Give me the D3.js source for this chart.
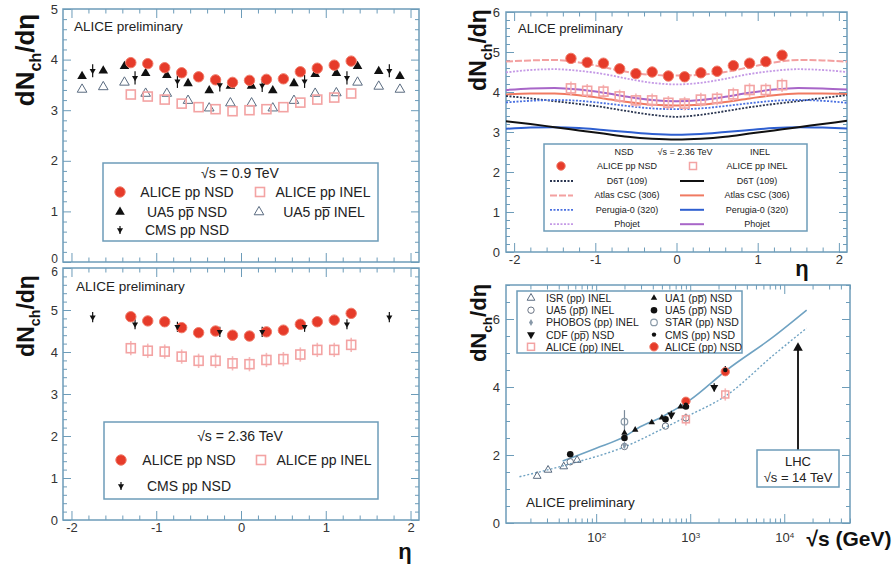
<!DOCTYPE html>
<html><head><meta charset="utf-8">
<script src="https://cdn.jsdelivr.net/npm/d3@7"></script>
<style>body{margin:0;background:#fff}svg{display:block}text{font-family:"Liberation Sans",Arial,Helvetica,sans-serif}</style>
</head><body>
<svg id="c" width="895" height="568"></svg>
<script>
// ---------------- DATA ----------------
const etaALICE = [-1.3,-1.1,-0.9,-0.7,-0.5,-0.3,-0.1,0.1,0.3,0.5,0.7,0.9,1.1,1.3];
const alice09NSD  = [3.94,3.92,3.84,3.74,3.66,3.60,3.55,3.59,3.61,3.62,3.76,3.83,3.89,3.97];
const alice09INEL = [3.31,3.27,3.21,3.13,3.06,3.02,2.98,3.00,3.02,3.06,3.15,3.21,3.25,3.33];
const etaUA5 = [-1.875,-1.625,-1.375,-1.125,-0.875,-0.625,-0.375,-0.125,0.125,0.375,0.625,0.875,1.125,1.375,1.625,1.875];
const ua5NSD  = [3.67,3.78,3.87,3.73,3.69,3.53,3.39,3.48,3.48,3.39,3.53,3.71,3.73,3.87,3.77,3.67];
const ua5INEL = [3.41,3.46,3.55,3.33,3.33,3.19,3.04,3.14,3.14,3.04,3.19,3.33,3.34,3.55,3.47,3.41];
const etaCMS = [-1.75,-1.25,-0.75,-0.25,0.25,0.75,1.25,1.75];
const cms09NSD = [3.78,3.64,3.57,3.50,3.49,3.57,3.64,3.78];
const alice236NSD  = [4.84,4.74,4.72,4.58,4.46,4.50,4.40,4.38,4.48,4.52,4.66,4.72,4.76,4.92];
const alice236INEL = [4.09,4.03,4.01,3.89,3.79,3.79,3.73,3.71,3.81,3.83,3.94,4.05,4.05,4.17];
const cms236NSD = [4.83,4.66,4.60,4.48,4.48,4.60,4.66,4.83];

const etaModel = [-2.1,-1.8,-1.5,-1.2,-0.9,-0.6,-0.3,0,0.3,0.6,0.9,1.2,1.5,1.8,2.1];
const d6tNSD     = [3.90,3.84,3.77,3.70,3.62,3.52,3.43,3.38,3.43,3.52,3.62,3.70,3.77,3.85,3.92];
const d6tINEL    = [3.27,3.20,3.12,3.04,2.96,2.88,2.83,2.81,2.83,2.88,2.96,3.04,3.12,3.20,3.28];
const atlasNSD   = [4.76,4.79,4.80,4.74,4.62,4.50,4.43,4.41,4.43,4.50,4.62,4.74,4.80,4.79,4.76];
const atlasINEL  = [3.94,3.96,3.96,3.92,3.84,3.75,3.68,3.66,3.68,3.75,3.84,3.92,3.96,3.96,3.95];
const perugiaNSD = [3.74,3.78,3.80,3.78,3.72,3.65,3.59,3.57,3.59,3.65,3.72,3.78,3.80,3.78,3.73];
const perugiaINEL= [3.08,3.11,3.12,3.10,3.05,3.00,2.95,2.93,2.95,3.00,3.05,3.10,3.12,3.11,3.09];
const phojetNSD  = [4.49,4.55,4.57,4.53,4.45,4.33,4.23,4.19,4.23,4.33,4.45,4.53,4.57,4.55,4.50];
const phojetINEL = [4.05,4.09,4.10,4.06,3.98,3.88,3.80,3.77,3.80,3.88,3.98,4.06,4.10,4.09,4.06];

// energy dependence (sqrt s in GeV)
const isrS = [23.6,30.8,45.2,62.8];          const isrINEL = [1.38,1.56,1.66,1.85];
const ua5InelS = [53,200,546,900];           const ua5InelV = [1.80,2.25,2.85,3.09];
const phobosS = [200];                       const phobosINEL = [2.29];
const cdfS = [630,1800];                     const cdfNSD = [3.18,3.99];
const ua1S = [200,260,390,500,790,900];      const ua1NSD = [2.65,2.74,2.96,3.10,3.42,3.48];
const ua5NsdS = [53,200,546,900];            const ua5NsdV = [2.02,2.50,3.05,3.43];
const starS = [200];                         const starNSD = [2.98];
const cmsS = [900,2360];                     const cmsNSD = [3.48,4.50];
const aliceS = [900,2360];                   const aliceNSD = [3.58,4.45]; const aliceINEL = [3.05,3.78];
const fitNsdS = [44,100,200,294,500,1000,2450,7700,17300];
const fitNsdV = [1.82,2.20,2.54,2.83,3.12,3.62,4.50,5.48,6.26];
const fitInelS = [15.3,50,200,560,920,2450,7700,17300];
const fitInelV = [1.36,1.72,2.24,2.83,3.13,3.76,4.94,5.73];

// ---------------- DRAWING ----------------
const svg = d3.select("#c");
const FR = "#6d9cb9", TXT = "#333";
const RED = "#e63b2a", PINK = "#f3a3a3", GRAYB = "#5a6b80";

const X1 = d3.scaleLinear().domain([-2.1,2.1]).range([63,419]);
const YA = d3.scaleLinear().domain([0,5]).range([262,9]);
const YC = d3.scaleLinear().domain([0,6]).range([520,268]);
const X2 = d3.scaleLinear().domain([-2.1,2.1]).range([506,847]);
const YB = d3.scaleLinear().domain([0,6]).range([252,12]);
const XD = d3.scaleLog().domain([11,50000]).range([506,850]);
const YD = d3.scaleLinear().domain([0,7]).range([523,285]);

const isInt = v => Math.abs(v-Math.round(v))<1e-6;
const etaMajor = [-2,-1,0,1,2];
const etaMinor = d3.range(-2.0,2.01,0.2).map(v=>+v.toFixed(2)).filter(v=>!isInt(v));
const plainFmt = d => String(d);

function panel(o){
  const g = svg.append("g");
  const [xa,xb] = o.x.range(), [yb,ya] = o.y.range();
  const add = (axis,tr)=>{
    const s=g.append("g").attr("transform",tr).call(axis);
    s.select(".domain").remove();
    s.selectAll("line").attr("stroke",FR).attr("stroke-width",1);
    s.selectAll("text").attr("fill",TXT).style("font-size","13px");
    return s;
  };
  const xl = add(d3.axisBottom(o.x).tickValues(o.xMajor).tickSize(-9).tickPadding(o.xPad||3).tickFormat(o.xFmt), `translate(0,${yb})`);
  add(d3.axisBottom(o.x).tickValues(o.xMinor).tickSize(-4.5).tickFormat(""), `translate(0,${yb})`);
  add(d3.axisTop(o.x).tickValues(o.xMajor).tickSize(-9).tickFormat(""), `translate(0,${ya})`);
  add(d3.axisTop(o.x).tickValues(o.xMinor).tickSize(-4.5).tickFormat(""), `translate(0,${ya})`);
  const yl = add(d3.axisLeft(o.y).tickValues(o.yMajor).tickSize(-8).tickPadding(o.yPad||5).tickFormat(plainFmt), `translate(${xa},0)`);
  add(d3.axisLeft(o.y).tickValues(o.yMinor).tickSize(-4).tickFormat(""), `translate(${xa},0)`);
  add(d3.axisRight(o.y).tickValues(o.yMajor).tickSize(-8).tickFormat(""), `translate(${xb},0)`);
  add(d3.axisRight(o.y).tickValues(o.yMinor).tickSize(-4).tickFormat(""), `translate(${xb},0)`);
  g.append("rect").attr("x",xa).attr("y",ya).attr("width",xb-xa).attr("height",yb-ya)
    .attr("fill","none").attr("stroke",FR).attr("stroke-width",1.5);
  const cid = "clip"+Math.round(xa)+"_"+Math.round(ya);
  svg.append("clipPath").attr("id",cid).append("rect").attr("x",xa).attr("y",ya).attr("width",xb-xa).attr("height",yb-ya);
  const data = svg.append("g").attr("clip-path",`url(#${cid})`);
  return {g,data,xl,yl};
}

function yTitle(x,y,size){
  const t=svg.append("text").attr("transform",`translate(${x},${y}) rotate(-90)`).attr("text-anchor","middle")
    .style("font-weight","bold").style("font-size",size+"px").attr("fill","#111");
  t.append("tspan").text("dN");
  t.append("tspan").attr("dy",size*0.28).style("font-size",(size*0.62)+"px").text("ch");
  t.append("tspan").attr("dy",-size*0.28).text("/d\u03b7");
}
function label(x,y,txt,size,anchor,opts){
  const t=svg.append("text").attr("x",x).attr("y",y).attr("text-anchor",anchor||"start")
    .style("font-size",size+"px").attr("fill",(opts&&opts.fill)||"#222").text(txt);
  if(opts&&opts.bold) t.style("font-weight","bold");
  return t;
}
const symPath = (type,size)=>d3.symbol().type(type).size(size)();
function markers(g,xs,ys,sx,sy,kind){
  xs.forEach((xv,i)=>{ drawMarker(g,sx(xv),sy(ys[i]),kind); });
}
function drawMarker(g,px,py,kind){
  switch(kind){
    case "aliceNSD": g.append("circle").attr("cx",px).attr("cy",py).attr("r",5.2).attr("fill",RED).attr("stroke","#f07a68").attr("stroke-width",1); break;
    case "aliceNSDs": g.append("circle").attr("cx",px).attr("cy",py).attr("r",4.2).attr("fill",RED).attr("stroke","#f07a68").attr("stroke-width",1); break;
    case "aliceINEL": g.append("rect").attr("x",px-4.5).attr("y",py-4.5).attr("width",9).attr("height",9).attr("fill","none").attr("stroke",PINK).attr("stroke-width",1.6); break;
    case "aliceINELs": g.append("rect").attr("x",px-3.5).attr("y",py-3.5).attr("width",7).attr("height",7).attr("fill","none").attr("stroke",PINK).attr("stroke-width",1.5); break;
    case "triF": g.append("path").attr("d",symPath(d3.symbolTriangle,40)).attr("transform",`translate(${px},${py})`).attr("fill","#111"); break;
    case "triO": g.append("path").attr("d",symPath(d3.symbolTriangle,40)).attr("transform",`translate(${px},${py})`).attr("fill","none").attr("stroke",GRAYB).attr("stroke-width",1); break;
    case "triFs": g.append("path").attr("d",symPath(d3.symbolTriangle,18)).attr("transform",`translate(${px},${py})`).attr("fill","#111"); break;
    case "triOs": g.append("path").attr("d",symPath(d3.symbolTriangle,26)).attr("transform",`translate(${px},${py})`).attr("fill","none").attr("stroke",GRAYB).attr("stroke-width",1); break;
    case "cms": g.append("path").attr("d",symPath(d3.symbolTriangle,16)).attr("transform",`translate(${px},${py}) rotate(180)`).attr("fill","#111"); break;
    case "cdf": g.append("path").attr("d",symPath(d3.symbolTriangle,28)).attr("transform",`translate(${px},${py}) rotate(180)`).attr("fill","#111"); break;
    case "dotF": g.append("circle").attr("cx",px).attr("cy",py).attr("r",3.3).attr("fill","#111"); break;
    case "dotS": g.append("circle").attr("cx",px).attr("cy",py).attr("r",2.2).attr("fill","#111"); break;
    case "circO": g.append("circle").attr("cx",px).attr("cy",py).attr("r",3.2).attr("fill","none").attr("stroke","#6a7484").attr("stroke-width",1); break;
    case "star": g.append("circle").attr("cx",px).attr("cy",py).attr("r",3.3).attr("fill","none").attr("stroke","#8a9aa8").attr("stroke-width",1.2); break;
    case "phobos": g.append("path").attr("d",symPath(d3.symbolDiamond,14)).attr("transform",`translate(${px},${py})`).attr("fill","#8898a8"); break;
  }
}
function errbars(g,xs,ys,err,sx,sy,color,w){
  xs.forEach((xv,i)=>{
    g.append("line").attr("x1",sx(xv)).attr("x2",sx(xv)).attr("y1",sy(ys[i]-err)).attr("y2",sy(ys[i]+err))
     .attr("stroke",color).attr("stroke-width",w||1.2);
  });
}

// ======== Panel A : 0.9 TeV ========
const pA = panel({x:X1,y:YA,xMajor:etaMajor,xMinor:etaMinor,xFmt:()=>"",
  yMajor:d3.range(0,6),yMinor:d3.range(0,5.01,0.2).map(v=>+v.toFixed(2)).filter(v=>!isInt(v))});
pA.yl.selectAll(".tick text").filter(d=>d===0).attr("dy","0.05em").style("font-size","12px");
errbars(pA.data,etaCMS,cms09NSD,0.13,X1,YA,"#111",1.2);
markers(pA.data,etaUA5,ua5INEL,X1,YA,"triO");
markers(pA.data,etaALICE,alice09INEL,X1,YA,"aliceINEL");
markers(pA.data,etaUA5,ua5NSD,X1,YA,"triF");
markers(pA.data,etaALICE,alice09NSD,X1,YA,"aliceNSD");
markers(pA.data,etaCMS,cms09NSD,X1,YA,"cms");
label(74,31,"ALICE preliminary",13.5);
yTitle(34,60,26);
// legend A
svg.append("rect").attr("x",103).attr("y",163).attr("width",275).attr("height",78).attr("fill","#fff").attr("stroke",FR).attr("stroke-width",1.5);
label(240,178,"\u221as = 0.9 TeV",14,"middle");
drawMarker(svg,120,192,"aliceNSD"); label(187,197,"ALICE pp NSD",14,"middle");
drawMarker(svg,260,192,"aliceINEL"); label(323,197,"ALICE pp INEL",14,"middle");
drawMarker(svg,120,212,"triF"); label(187,217,"UA5 pp\u0305 NSD",14,"middle");
drawMarker(svg,259,212,"triO"); label(324,217,"UA5 pp\u0305 INEL",14,"middle");
svg.append("line").attr("x1",120).attr("x2",120).attr("y1",226).attr("y2",234).attr("stroke","#111").attr("stroke-width",1.2);
drawMarker(svg,120,230,"cms"); label(187,235,"CMS pp NSD",14,"middle");

// ======== Panel C : 2.36 TeV ========
const pC = panel({x:X1,y:YC,xMajor:etaMajor,xMinor:etaMinor,xFmt:plainFmt,xPad:3,
  yMajor:d3.range(0,7),yMinor:d3.range(0,6.01,0.2).map(v=>+v.toFixed(2)).filter(v=>!isInt(v))});
pC.yl.selectAll(".tick text").filter(d=>d===6).attr("dy","0.6em").style("font-size","12px");
errbars(pC.data,etaALICE,alice236INEL,0.17,X1,YC,"#f6b8b8",1.6);
errbars(pC.data,etaCMS,cms236NSD,0.12,X1,YC,"#111",1.2);
errbars(pC.data,etaALICE,alice236NSD,0.08,X1,YC,"#f07a68",1.2);
markers(pC.data,etaALICE,alice236INEL,X1,YC,"aliceINEL");
markers(pC.data,etaALICE,alice236NSD,X1,YC,"aliceNSD");
markers(pC.data,etaCMS,cms236NSD,X1,YC,"cms");
label(76,291,"ALICE preliminary",13.5);
yTitle(34,316,23);
label(405,559,"\u03b7",22,"middle",{bold:true,fill:"#111"});
svg.append("rect").attr("x",104).attr("y",422).attr("width",274).attr("height",77).attr("fill","#fff").attr("stroke",FR).attr("stroke-width",1.5);
label(240,441,"\u221as = 2.36 TeV",14,"middle");
drawMarker(svg,121,460,"aliceNSD"); label(189,465,"ALICE pp NSD",14,"middle");
drawMarker(svg,261,460,"aliceINEL"); label(324,465,"ALICE pp INEL",14,"middle");
svg.append("line").attr("x1",121).attr("x2",121).attr("y1",482).attr("y2",490).attr("stroke","#111").attr("stroke-width",1.2);
drawMarker(svg,121,486,"cms"); label(189,491,"CMS pp NSD",14,"middle");

// ======== Panel B : model comparison ========
const pB = panel({x:X2,y:YB,xMajor:etaMajor,xMinor:etaMinor,xFmt:plainFmt,xPad:3,
  yMajor:d3.range(0,7),yMinor:d3.range(0,6.01,0.2).map(v=>+v.toFixed(2)).filter(v=>!isInt(v)),yPad:6});
const models = [
  {v:perugiaINEL,c:"#2e5fd0",d:null,w:2},
  {v:d6tINEL,c:"#111",d:null,w:2},
  {v:atlasINEL,c:"#f07a62",d:null,w:2},
  {v:phojetINEL,c:"#a866c8",d:null,w:2},
  {v:d6tNSD,c:"#2a3550",d:"2,1.5",w:1.8},
  {v:perugiaNSD,c:"#4a70e0",d:"2,1.5",w:1.8},
  {v:phojetNSD,c:"#c59ae6",d:"2,1.5",w:1.8},
  {v:atlasNSD,c:"#f3a0a0",d:"7,2",w:2}
];
const lineB = d3.line().x((d,i)=>X2(etaModel[i])).y(d=>YB(d)).curve(d3.curveMonotoneX);
models.forEach(m=>{
  const p=pB.data.append("path").attr("d",lineB(m.v)).attr("fill","none").attr("stroke",m.c).attr("stroke-width",m.w);
  if(m.d) p.attr("stroke-dasharray",m.d);
});
errbars(pB.data,etaALICE,alice236INEL,0.17,X2,YB,"#f6b8b8",1.6);
errbars(pB.data,etaALICE,alice236NSD,0.1,X2,YB,"#e85040",1.2);
markers(pB.data,etaALICE,alice236INEL,X2,YB,"aliceINEL");
markers(pB.data,etaALICE,alice236NSD,X2,YB,"aliceNSD");
label(518,33,"ALICE preliminary",13);
yTitle(486,50,23);
label(802,276,"\u03b7",22,"middle",{bold:true,fill:"#111"});
svg.append("rect").attr("x",544).attr("y",144).attr("width",263).attr("height",87).attr("fill","#fff").attr("stroke",FR).attr("stroke-width",1.5);
label(624,155,"NSD",9,"middle"); label(685,155,"\u221as = 2.36 TeV",9,"middle"); label(760,155,"INEL",9,"middle");
drawMarker(svg,561,166,"aliceNSDs"); label(627,169,"ALICE pp NSD",9,"middle");
drawMarker(svg,693,166,"aliceINELs"); label(757,169,"ALICE pp INEL",9,"middle");
const legRows = [["D6T (109)",4,1],["Atlas CSC (306)",7,2],["Perugia-0 (320)",5,0],["Phojet",6,3]];
legRows.forEach((r,k)=>{
  const yy = 181 + k*14.4;
  const mN = models[r[1]], mI = models[r[2]];
  svg.append("line").attr("x1",550).attr("x2",573).attr("y1",yy).attr("y2",yy).attr("stroke",mN.c).attr("stroke-width",mN.w).attr("stroke-dasharray",mN.d);
  label(627,yy+3,r[0],9,"middle");
  svg.append("line").attr("x1",680).attr("x2",704).attr("y1",yy).attr("y2",yy).attr("stroke",mI.c).attr("stroke-width",mI.w);
  label(757,yy+3,r[0],9,"middle");
});

// ======== Panel D : energy dependence ========
const decMinor = [];
[10,100,1000,10000].forEach(d=>{ for(let k=2;k<=9;k++){ const v=d*k; if(v>=11&&v<=50000) decMinor.push(v);} });
const pD = panel({x:XD,y:YD,xMajor:[100,1000,10000],xMinor:decMinor,xFmt:()=>"10",xPad:10,
  yMajor:[0,2,4,6],yMinor:d3.range(0,7.01,0.5).filter(v=>v%2!==0),yPad:6});
pD.xl.selectAll(".tick text").each(function(d){
  d3.select(this).append("tspan").attr("dy","-0.55em").style("font-size","8px").text(Math.round(Math.log10(d)));
});
const lineD = (S)=>d3.line().x((d,i)=>XD(S[i])).y(d=>YD(d)).curve(d3.curveMonotoneX);
pD.data.append("path").attr("d",lineD(fitNsdS)(fitNsdV)).attr("fill","none").attr("stroke","#6fa2c2").attr("stroke-width",1.6);
pD.data.append("path").attr("d",lineD(fitInelS)(fitInelV)).attr("fill","none").attr("stroke","#6fa2c2").attr("stroke-width",1.4).attr("stroke-dasharray","2,2");
errbars(pD.data,starS,starNSD,0.34,XD,YD,"#7a8a9a",1.2);
errbars(pD.data,phobosS,phobosINEL,0.1,XD,YD,"#8898a8",1.2);
errbars(pD.data,cdfS,cdfNSD,0.12,XD,YD,"#111",1.2);
errbars(pD.data,cmsS,cmsNSD,0.12,XD,YD,"#111",1.2);
errbars(pD.data,aliceS,aliceINEL,0.18,XD,YD,"#f6b8b8",1.6);
markers(pD.data,isrS,isrINEL,XD,YD,"triOs");
markers(pD.data,ua5InelS,ua5InelV,XD,YD,"circO");
markers(pD.data,phobosS,phobosINEL,XD,YD,"phobos");
markers(pD.data,starS,starNSD,XD,YD,"star");
markers(pD.data,aliceS,aliceINEL,XD,YD,"aliceINELs");
markers(pD.data,ua1S,ua1NSD,XD,YD,"triFs");
markers(pD.data,ua5NsdS,ua5NsdV,XD,YD,"dotF");
markers(pD.data,cdfS,cdfNSD,XD,YD,"cdf");
markers(pD.data,aliceS,aliceNSD,XD,YD,"aliceNSDs");
markers(pD.data,cmsS,cmsNSD,XD,YD,"dotS");
label(526,507,"ALICE preliminary",13.5);
yTitle(486,323,22);
label(849,546,"\u221as (GeV)",21,"middle",{bold:true,fill:"#111"});
// LHC arrow
svg.append("line").attr("x1",XD(14000)).attr("x2",XD(14000)).attr("y1",450).attr("y2",YD(5.1)).attr("stroke","#222").attr("stroke-width",2);
svg.append("path").attr("d",symPath(d3.symbolTriangle,40)).attr("transform",`translate(${XD(14000)},${YD(5.15)})`).attr("fill","#111");
svg.append("rect").attr("x",757).attr("y",450).attr("width",82).attr("height",37).attr("fill","#fff").attr("stroke",FR).attr("stroke-width",1.5);
label(798,466,"LHC",13,"middle");
label(798,482,"\u221as = 14 TeV",13,"middle");
// legend D
svg.append("rect").attr("x",517).attr("y",291).attr("width",225).attr("height",62).attr("fill","#fff").attr("stroke",FR).attr("stroke-width",1.5);
const legD = [
  ["triOs","ISR (pp) INEL","triFs","UA1 (pp\u0305) NSD"],
  ["circO","UA5 (pp\u0305) INEL","dotF","UA5 (pp\u0305) NSD"],
  ["phobos","PHOBOS (pp) INEL","star","STAR (pp) NSD"],
  ["cdf","CDF (pp\u0305) NSD","dotS","CMS (pp) NSD"],
  ["aliceINELs","ALICE (pp) INEL","aliceNSDs","ALICE (pp) NSD"]
];
legD.forEach((r,k)=>{
  const yy = 298 + k*12.2;
  drawMarker(svg,531,yy,r[0]); label(546,yy+4,r[1],10.5,"start");
  drawMarker(svg,654,yy,r[2]); label(665,yy+4,r[3],10.5,"start");
});
</script>
</body></html>
